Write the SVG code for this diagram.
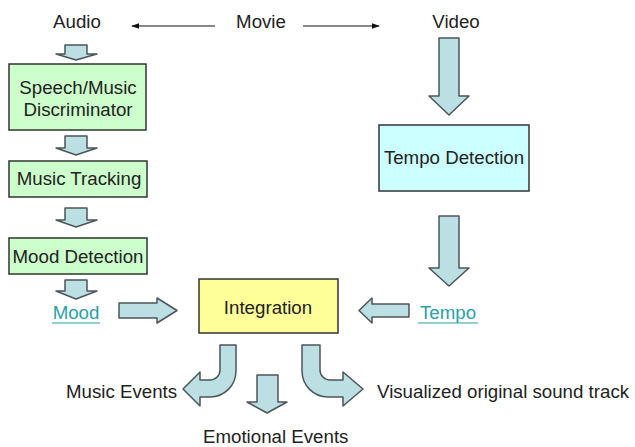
<svg xmlns="http://www.w3.org/2000/svg" width="635" height="447" viewBox="0 0 635 447">
  <defs>
    <style>
      .t { font-family: "Liberation Sans", Arial, sans-serif; font-size: 18.7px; fill: #222; }
      .c { text-anchor: middle; }
      .link { fill: #2aa0a8; }
      .box { stroke: #333; stroke-width: 1.5; }
      .green { fill: #ccffcc; }
      .cyan { fill: #ccffff; }
      .yellow { fill: #ffff99; }
      .blk { fill: #bbdfe3; stroke: #4d5558; stroke-width: 1.5; stroke-linejoin: round; }
      .thin { stroke: #111; stroke-width: 1.2; fill: none; }
    </style>
    <marker id="ah" viewBox="0 0 10 10" refX="9" refY="5" markerWidth="8" markerHeight="8" markerUnits="userSpaceOnUse" orient="auto">
      <path d="M0,1.5 L10,5 L0,8.5 Z" fill="#111"/>
    </marker>
  </defs>

  <rect width="635" height="447" fill="#fff"/>

  <!-- source labels -->
  <g id="audio"><text class="t c" x="77" y="28">Audio</text></g>
  <g id="movie"><text class="t c" x="261" y="28">Movie</text></g>
  <g id="video"><text class="t c" x="456" y="28">Video</text></g>

  <!-- processing boxes -->
  <g id="speech-music">
    <rect class="box green" x="9" y="64" width="137" height="66"/>
    <text class="t c" x="78" y="94">Speech/Music</text>
    <text class="t c" x="78" y="116">Discriminator</text>
  </g>
  <g id="music-tracking">
    <rect class="box green" x="9" y="161" width="138" height="36"/>
    <text class="t c" x="79" y="185">Music Tracking</text>
  </g>
  <g id="mood-detection">
    <rect class="box green" x="9" y="238" width="138" height="36"/>
    <text class="t c" x="78" y="263">Mood Detection</text>
  </g>
  <g id="tempo-detection">
    <rect class="box cyan" x="379" y="125" width="150" height="66"/>
    <text class="t c" x="454" y="164">Tempo Detection</text>
  </g>
  <g id="integration">
    <rect class="box yellow" x="199" y="279" width="139" height="54"/>
    <text class="t c" x="268" y="314">Integration</text>
  </g>

  <!-- intermediate results -->
  <g id="mood">
    <text class="t c link" x="76" y="319">Mood</text>
    <line x1="52" y1="323" x2="100" y2="323" stroke="#2aa0a8" stroke-width="1.2"/>
  </g>
  <g id="tempo">
    <text class="t c link" x="448" y="319">Tempo</text>
    <line x1="418" y1="323" x2="478" y2="323" stroke="#2aa0a8" stroke-width="1.2"/>
  </g>

  <!-- outputs -->
  <g id="music-events"><text class="t" x="66" y="398">Music Events</text></g>
  <g id="emotional-events"><text class="t" x="203" y="443">Emotional Events</text></g>
  <g id="visualized-track"><text class="t" x="377" y="398">Visualized original sound track</text></g>

  <!-- connectors -->
  <g id="connectors">
    <line class="thin" x1="215" y1="26" x2="132" y2="26" marker-end="url(#ah)"/>
    <line class="thin" x1="303" y1="26" x2="379" y2="26" marker-end="url(#ah)"/>

    <!-- audio chain -->
    <polygon class="blk" points="65,45 87,45 87,54 97,54 76,60 56,54 65,54"/>
    <polygon class="blk" points="65,136 87,136 87,148 97,148 76,155 56,148 65,148"/>
    <polygon class="blk" points="65,208 87,208 87,220 97,220 76,227 56,220 65,220"/>
    <polygon class="blk" points="65,280 87,280 87,291 97,291 76,299 56,291 65,291"/>

    <!-- mood to integration -->
    <polygon class="blk" points="119,303 157,303 157,298 177,310.5 157,323 157,318 119,318"/>

    <!-- video chain -->
    <polygon class="blk" points="439,38 459,38 459,96 469,96 449,115 429,96 439,96"/>
    <polygon class="blk" points="439,216 459,216 459,268 469,268 449,286 429,268 439,268"/>

    <!-- tempo to integration -->
    <polygon class="blk" points="409,304 372,304 372,298 359,310.5 372,323 372,317 409,317"/>

    <!-- integration outputs -->
    <path class="blk" d="M220,345 L236,345 L236,371 A26,26 0 0 1 210,397 L200,397 L200,406 L183,389 L200,372 L200,380 L210,380 A10,10 0 0 0 220,370 Z"/>
    <polygon class="blk" points="257,375 278,375 278,402 287,402 267,413 247,402 257,402"/>
    <path class="blk" d="M302,345 L320,345 L320,370 A10,10 0 0 0 330,380 L343,380 L343,372 L363,389 L343,406 L343,397 L328,397 A26,26 0 0 1 302,371 Z"/>
  </g>
</svg>
